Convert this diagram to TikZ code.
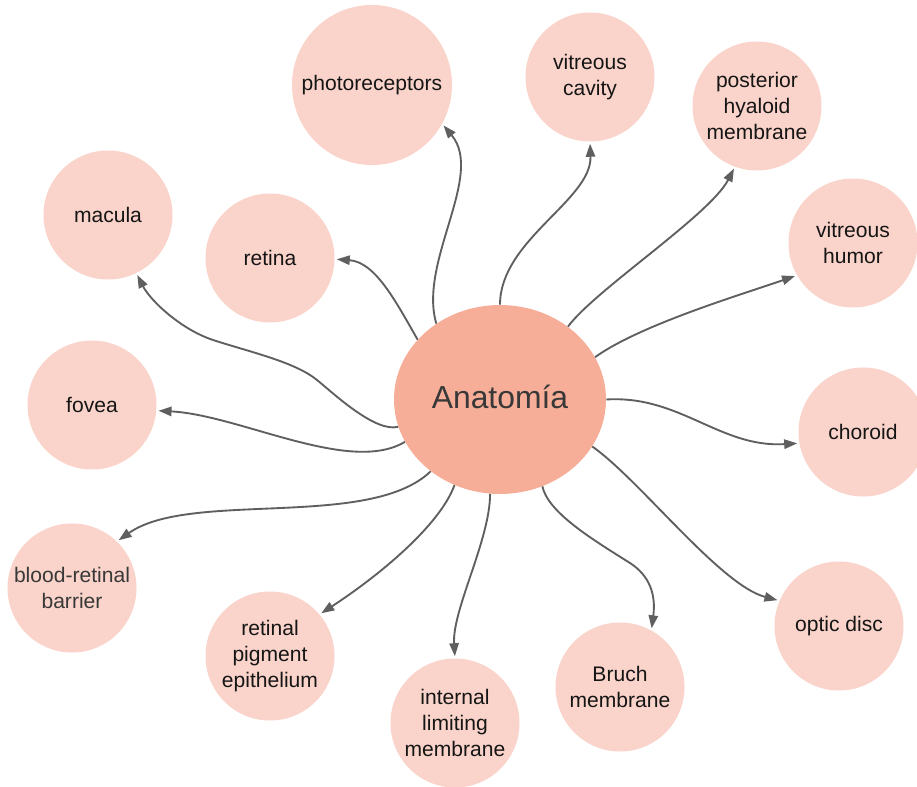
\documentclass[tikz,border=0pt]{standalone}
\usepackage{fontspec}
\setmainfont{Liberation Sans}
\usetikzlibrary{arrows.meta,shapes.geometric}
\definecolor{hub}{HTML}{F7AE98}
\definecolor{leaf}{HTML}{FAD4CA}
\definecolor{wire}{HTML}{5F5F5F}
\definecolor{ink}{HTML}{151515}
\definecolor{inkgray}{HTML}{383838}
\begin{document}
\begin{tikzpicture}[x=0.75pt,y=-0.75pt,
 hubnode/.style={ellipse, fill=hub, draw=none, minimum width=159pt, minimum height=141.75pt, inner sep=0pt, text=inkgray, font=\fontsize{23.9}{28}\selectfont},
 leafnode/.style={circle, fill=leaf, draw=none, minimum size=96.75pt, inner sep=0pt, text=ink, align=center, font=\fontsize{15.8}{19.5}\selectfont},
 conn/.style={draw=wire, line width=1.4pt, -{Triangle[length=9.75pt,width=7pt]}, shorten >=1.5pt}]
\useasboundingbox (0,0) rectangle (917,787);
\fill[white] (0,0) rectangle (917,787);

\node[hubnode] (hub) at (500,399.5) {\raisebox{4.5pt}{Anatomía}};
\node[leafnode, minimum size=120pt] (photo) at (372,85) {photoreceptors};
\node[leafnode] (vcav) at (590,77) {vitreous\\cavity};
\node[leafnode] (phm) at (757,106) {posterior\\hyaloid\\membrane};
\node[leafnode] (vhum) at (853,243) {vitreous\\humor};
\node[leafnode] (chor) at (863,432) {choroid};
\node[leafnode] (optic) at (839,626) {optic disc};
\node[leafnode] (bruch) at (620,687) {Bruch\\membrane};
\node[leafnode] (ilm) at (455,723) {internal\\limiting\\membrane};
\node[leafnode] (rpe) at (270,656) {retinal\\pigment\\epithelium};
\node[leafnode, text=inkgray] (brb) at (72,588) {blood-retinal\\barrier};
\node[leafnode] (fovea) at (92,405) {fovea};
\node[leafnode] (macula) at (108,215) {macula};
\node[leafnode] (retina) at (270,258) {retina};

\draw[conn] (hub.144) .. controls (395,300) and (375,262) .. (retina.-1);
\draw[conn] (hub.130) .. controls (418,262) and (485,175) .. (photo.-29);
\draw[conn] (hub.90) .. controls (500,240) and (592,200) .. (vcav.-90);
\draw[conn] (hub.47) .. controls (595,290) and (710,215) .. (phm.-110);
\draw[conn] (hub.24) .. controls (640,325) and (740,295) .. (vhum.210);
\draw[conn] (hub.0) .. controls (680,395) and (720,448) .. (chor.190);
\draw[conn] (hub.-27) .. controls (640,480) and (720,585) .. (optic.157);
\draw[conn] (hub.-64) .. controls (548,512) and (590,538) .. (630,563) .. controls (650,576) and (656,595) .. (bruch.61);
\draw[conn] (hub.-96) .. controls (490,540) and (452,610) .. (ilm.90);
\draw[conn] (hub.-118) .. controls (440,525) and (380,575) .. (rpe.40);
\draw[conn] (hub.-134) .. controls (370,530) and (190,490) .. (brb.46);
\draw[conn] (hub.204) .. controls (350,475) and (240,415) .. (fovea.-5);
\draw[conn] (hub.195) .. controls (375,433) and (332,392) .. (317,380) .. controls (295,362) and (250,352) .. (213,340) .. controls (180,329) and (150,300) .. (macula.-64);
\end{tikzpicture}
\end{document}
